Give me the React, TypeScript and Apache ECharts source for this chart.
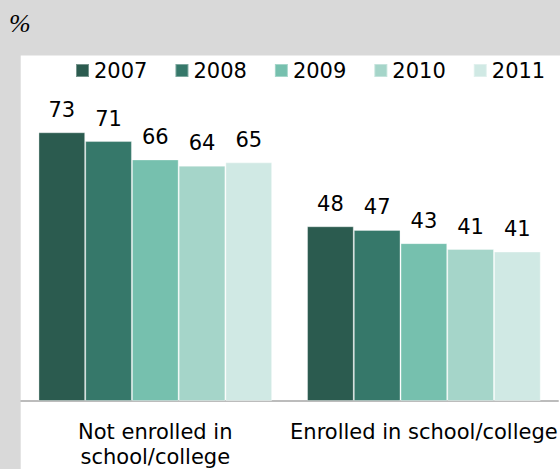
import React, { useEffect, useRef } from "react";
import * as echarts from "echarts";

const categories = ["Not enrolled in\nschool/college", "Enrolled in school/college"];
const years = ["2007", "2008", "2009", "2010", "2011"];
const values2007 = [73.2, 47.6];
const values2008 = [70.8, 46.6];
const values2009 = [65.8, 43.0];
const values2010 = [64.1, 41.4];
const values2011 = [65.0, 40.7];
const seriesValues = [values2007, values2008, values2009, values2010, values2011];
const colors = ["#2b5b4f", "#36786a", "#76c0ae", "#a5d5c9", "#d0e9e4"];

const FONT = "DejaVu Sans";

export default function App() {
  const ref = useRef<HTMLDivElement>(null);
  useEffect(() => {
    if (!ref.current) return;
    const chart = echarts.init(ref.current, undefined, { renderer: "svg" });
    chart.setOption({
      animation: false,
      backgroundColor: "#d9d9d9",
      graphic: [
        {
          type: "rect",
          z: -10,
          shape: { x: 20.7, y: 55.4, width: 540, height: 420 },
          style: { fill: "#ffffff" },
          silent: true,
        },
        {
          type: "text",
          left: 9,
          top: 10,
          style: {
            text: "%",
            font: "italic 26px 'Liberation Serif'",
            fill: "#000000",
          },
        },
      ],
      legend: {
        left: 70,
        top: 55,
        icon: "rect",
        itemWidth: 13,
        itemHeight: 13,
        itemGap: 27,
        textStyle: { fontFamily: FONT, fontSize: 21, color: "#000000" },
        data: years,
      },
      grid: { left: 21, width: 540, top: 107.3, bottom: 65.7, containLabel: false },
      xAxis: {
        type: "category",
        data: categories,
        axisLine: { lineStyle: { color: "#a6a6a6", width: 1.5 } },
        axisTick: { show: false },
        axisLabel: {
          fontFamily: FONT,
          fontSize: 21,
          color: "#000000",
          lineHeight: 25,
          margin: 18,
          interval: 0,
        },
      },
      yAxis: {
        type: "value",
        min: 0,
        max: 80,
        show: false,
        splitLine: { show: false },
      },
      series: years.map((y, i) => ({
        name: y,
        type: "bar",
        data: seriesValues[i],
        barGap: "0%",
        barCategoryGap: "13%",
        itemStyle: {
          color: colors[i],
          borderColor: "rgba(255,255,255,0.35)",
          borderWidth: 1,
        },
        label: {
          show: true,
          position: "top",
          distance: 12,
          fontFamily: FONT,
          fontSize: 21,
          color: "#000000",
          formatter: (p: any) => String(Math.round(p.value)),
        },
      })),
    });
    return () => chart.dispose();
  }, []);
  return (
    <div
      ref={ref}
      style={{ position: "fixed", left: 0, top: 0, width: 560, height: 469 }}
    />
  );
}
